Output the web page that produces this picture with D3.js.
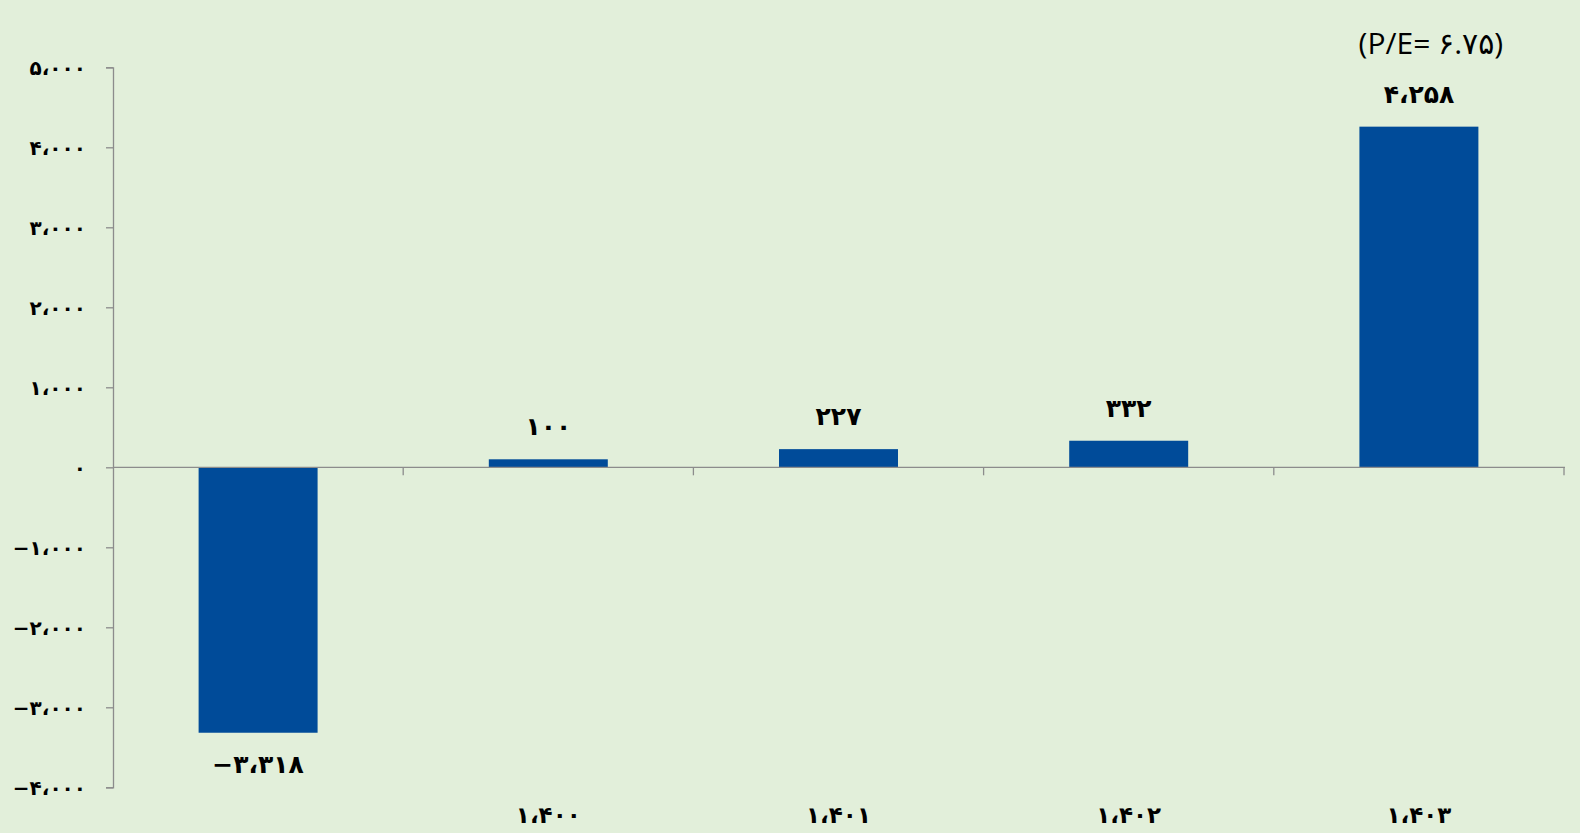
<!DOCTYPE html>
<html>
<head>
<meta charset="utf-8">
<script src="https://cdn.jsdelivr.net/npm/d3@7"></script>
<style>
  html, body { margin: 0; padding: 0; background: #E2EFDA; }
  svg { display: block; }
  text { font-family: "DejaVu Sans", sans-serif; }
</style>
</head>
<body>
<svg id="chart" width="1580" height="833"></svg>
<script>
// Annual values (net result per year)
const categories = ["۱،۳۹۹", "۱،۴۰۰", "۱،۴۰۱", "۱،۴۰۲", "۱،۴۰۳"];
const categoryLabels = ["", "۱،۴۰۰", "۱،۴۰۱", "۱،۴۰۲", "۱،۴۰۳"];
const values = [-3318, 100, 227, 332, 4258];
const yTicks = [-4000, -3000, -2000, -1000, 0, 1000, 2000, 3000, 4000, 5000];
const noteText = "(P/E= ۶.۷۵)";

const W = 1580, H = 833;
const margin = { left: 113, right: 16, top: 67.3, bottom: 45.7 };

const svg = d3.select("#chart");
svg.append("rect").attr("width", W).attr("height", H).attr("fill", "#E2EFDA");

// Persian digits with Arabic thousands separator
const fa = "۰۱۲۳۴۵۶۷۸۹";
function toFa(n) {
  return d3.format(",")(n)
    .replace(/[0-9]/g, d => fa[+d])
    .replace(/,/g, "،");
}

const x = d3.scaleBand()
  .domain(categories)
  .range([margin.left, W - margin.right])
  .paddingInner(0.59)
  .paddingOuter(0.295);

const y = d3.scaleLinear()
  .domain([-4000, 5000])
  .range([H - margin.bottom, margin.top]);

const axisColor = "#8C8C8C";

// Y axis
const yAxis = svg.append("g")
  .attr("transform", `translate(${margin.left},0)`)
  .call(d3.axisLeft(y).tickValues(yTicks).tickSize(7).tickPadding(20).tickFormat(toFa));
yAxis.select(".domain").attr("stroke", axisColor).attr("stroke-width", 1.3);
yAxis.selectAll(".tick line").attr("stroke", axisColor).attr("stroke-width", 1.3);
yAxis.selectAll(".tick text")
  .attr("font-size", 20).attr("font-weight", "bold").attr("fill", "#000")
  .attr("dy", "0.35em");

// Bars
svg.append("g").selectAll("rect")
  .data(values)
  .join("rect")
  .attr("x", (d, i) => x(categories[i]))
  .attr("width", x.bandwidth())
  .attr("y", d => y(Math.max(0, d)))
  .attr("height", d => Math.abs(y(d) - y(0)))
  .attr("fill", "#004B99");

// X axis along zero, ticks between categories
const step = x.step();
const x0 = margin.left;
const xEnd = x0 + step * categories.length;
const xAxis = svg.append("g");
xAxis.append("line")
  .attr("x1", x0).attr("x2", xEnd + 1)
  .attr("y1", y(0)).attr("y2", y(0))
  .attr("stroke", axisColor).attr("stroke-width", 1.3);
xAxis.selectAll("line.tk")
  .data(d3.range(1, categories.length + 1))
  .join("line")
  .attr("class", "tk")
  .attr("x1", i => x0 + step * i).attr("x2", i => x0 + step * i)
  .attr("y1", y(0)).attr("y2", y(0) + 8)
  .attr("stroke", axisColor).attr("stroke-width", 1.3);

// Category labels along the bottom
svg.append("g").selectAll("text")
  .data(categoryLabels)
  .join("text")
  .attr("x", (d, i) => x(categories[i]) + x.bandwidth() / 2)
  .attr("y", 823)
  .attr("text-anchor", "middle")
  .attr("font-size", 23).attr("font-weight", "bold").attr("fill", "#000")
  .text(d => d);

// Value labels
svg.append("g").selectAll("text")
  .data(values)
  .join("text")
  .attr("x", (d, i) => x(categories[i]) + x.bandwidth() / 2)
  .attr("y", d => d >= 0 ? y(d) - 24 : y(d) + 40)
  .attr("text-anchor", "middle")
  .attr("font-size", 25).attr("font-weight", "bold").attr("fill", "#000")
  .text(d => toFa(d));

// P/E note above the last bar
svg.append("text")
  .attr("x", x(categories[4]) + x.bandwidth() / 2 + 12)
  .attr("y", 54)
  .attr("text-anchor", "middle")
  .attr("font-size", 30).attr("fill", "#000")
  .style("font-family", "'Open Sans', 'DejaVu Sans', sans-serif")
  .text(noteText);
</script>
</body>
</html>
